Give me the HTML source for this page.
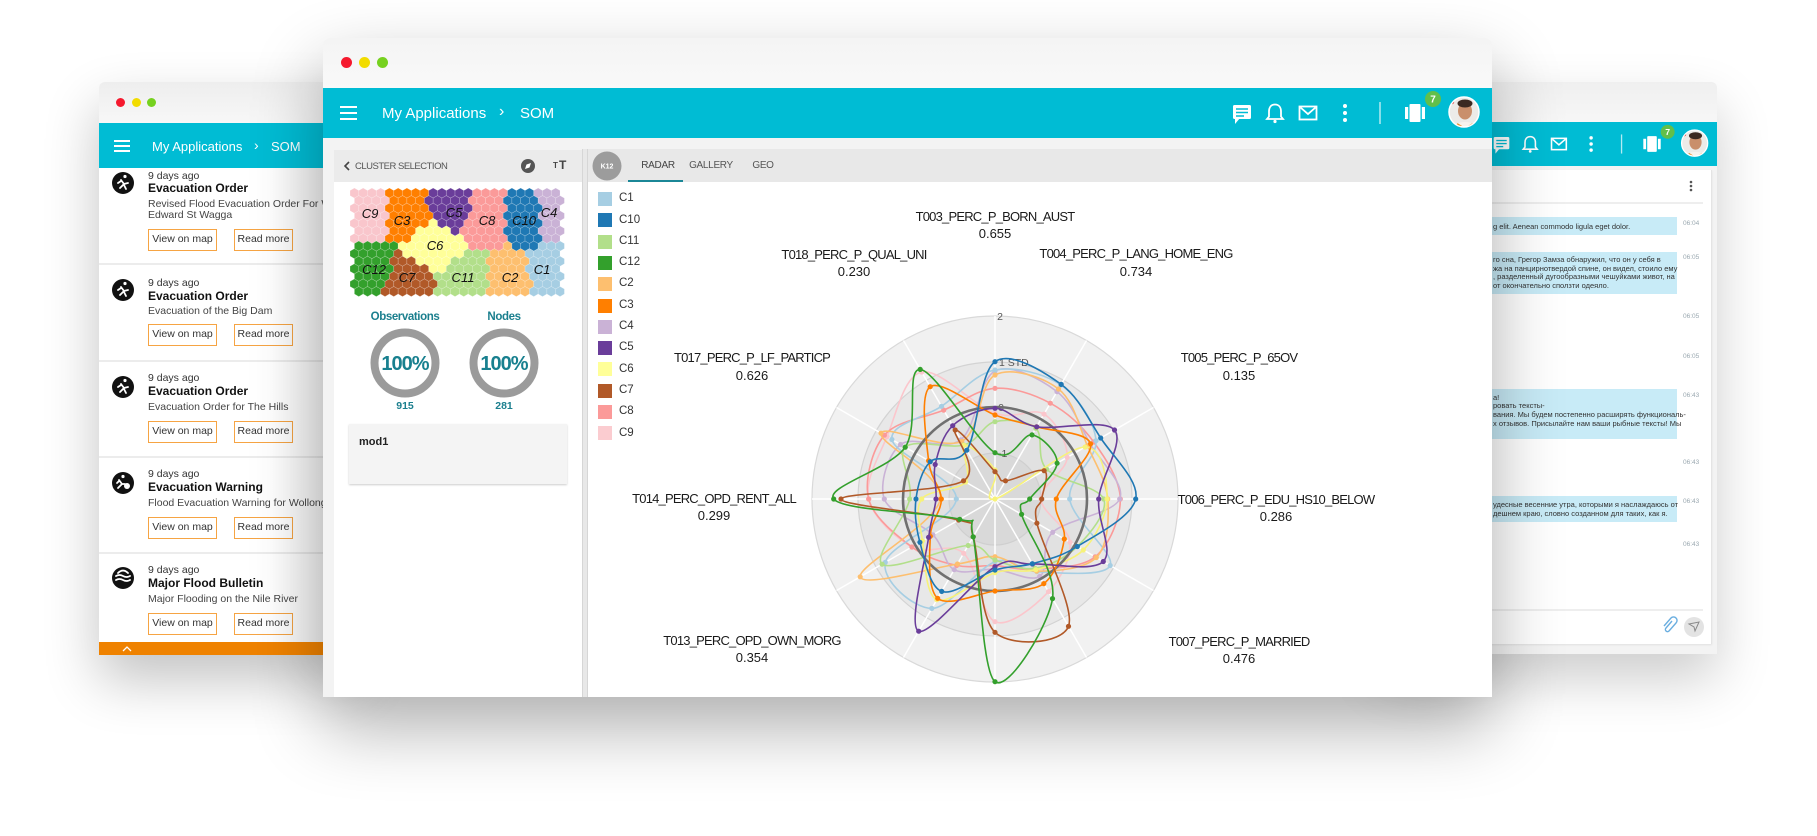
<!DOCTYPE html>
<html><head><meta charset="utf-8">
<style>
*{margin:0;padding:0;box-sizing:border-box}
body{width:1817px;height:836px;overflow:hidden;background:#fff;position:relative;font-family:"Liberation Sans",Arial,sans-serif;color:#222}
.a{position:absolute}
.t{position:absolute;white-space:nowrap;line-height:1}
.c{transform:translateX(-50%)}
.w{position:absolute;left:0;top:0;width:1817px;height:836px}
.dot{position:absolute;border-radius:50%}
.btn{position:absolute;height:22px;border:1.5px solid #f6a443;font-size:10.5px;color:#333;text-align:center;line-height:19px;background:#fff}
.sep{position:absolute;left:99px;width:260px;height:2px;background:#ececec}
.d9{font-size:10.5px;color:#333}
.ti{font-size:12px;font-weight:bold;color:#111}
.ds{font-size:10.5px;color:#444}
.lab{font-size:13px;letter-spacing:-0.8px;color:#1a1a1a}
.val{font-size:13px;color:#1a1a1a}
.lg{position:absolute;left:598px;width:14px;height:14px}
.lt{position:absolute;left:619px;font-size:11.5px;color:#333;line-height:1;white-space:nowrap}
.hl{font-size:13px;font-style:italic;color:#111}
.bub{position:absolute;background:#c8ebf7}
.bt{position:absolute;left:1493px;font-size:7.5px;color:#333;white-space:nowrap}
.tm{position:absolute;left:1683px;font-size:6.5px;color:#9aa8b0;line-height:1;white-space:nowrap}
</style></head><body>

<!-- LEFT BACK WINDOW -->
<div class="w" style="z-index:1">
  <div class="a" style="left:99px;top:82px;width:260px;height:573px;background:#fff;border-radius:6px 6px 0 0;box-shadow:0 25px 55px rgba(0,0,0,.24)"></div>
  <div class="a" style="left:99px;top:82px;width:260px;height:41px;background:linear-gradient(#eeeeee,#f7f7f7);border-radius:6px 6px 0 0"></div>
  <div class="dot" style="left:115.5px;top:97.5px;width:9px;height:9px;background:#f5192e"></div>
  <div class="dot" style="left:131.5px;top:97.5px;width:9px;height:9px;background:#f2dc00"></div>
  <div class="dot" style="left:146.5px;top:97.5px;width:9px;height:9px;background:#76d11f"></div>
  <div class="a" style="left:99px;top:123px;width:260px;height:45px;background:#00bcd4"></div>
  <div class="a" style="left:114px;top:140px;width:16px;height:2px;background:#fff"></div>
  <div class="a" style="left:114px;top:145px;width:16px;height:2px;background:#fff"></div>
  <div class="a" style="left:114px;top:150px;width:16px;height:2px;background:#fff"></div>
  <div class="t" style="left:152px;top:139.5px;font-size:13px;color:#fff">My Applications</div>
  <div class="t" style="left:254px;top:138px;font-size:14px;color:#fff">›</div>
  <div class="t" style="left:271px;top:139.5px;font-size:13px;color:#fff">SOM</div>

  <svg class="a" style="left:0;top:0" width="400" height="700">
    <g fill="#111">
      <circle cx="123" cy="183" r="11"/><circle cx="123" cy="290" r="11"/><circle cx="123" cy="387" r="11"/><circle cx="123" cy="483" r="11"/><circle cx="123" cy="578" r="11"/>
    </g>
    <g stroke="#fff" stroke-width="1.8" fill="none" stroke-linecap="round">
      <path d="M121 180 l3 4 l-4 4 M124 184 l4 -1 M121 181 l-3 2 M124 185 l2 4"/>
      <path d="M121 287 l3 4 l-4 4 M124 291 l4 -1 M121 288 l-3 2 M124 292 l2 4"/>
      <path d="M121 384 l3 4 l-4 4 M124 388 l4 -1 M121 385 l-3 2 M124 389 l2 4"/>
      <path d="M119 480 l3 4 l-4 4 M122 484 l3 0 M119 481 l-2 2"/>
      <path d="M116 576 q3.5 -2 7 0 q3.5 2 7 0 M116 580 q3.5 -2 7 0 q3.5 2 7 0 M118 573 q5 -5 10 0"/>
    </g>
    <g fill="#fff"><circle cx="125" cy="176.5" r="1.6"/><circle cx="125" cy="283.5" r="1.6"/><circle cx="125" cy="380.5" r="1.6"/><circle cx="123" cy="476.5" r="1.6"/><circle cx="127" cy="486" r="3"/></g>
  </svg>

  <!-- item 1 -->
  <div class="t d9" style="left:148px;top:170.7px">9 days ago</div>
  <div class="t ti" style="left:148px;top:182px">Evacuation Order</div>
  <div class="t ds" style="left:148px;top:198.7px">Revised Flood Evacuation Order For W</div>
  <div class="t ds" style="left:148px;top:209.7px">Edward St Wagga</div>
  <div class="btn" style="left:148px;top:229px;width:69px">View on map</div>
  <div class="btn" style="left:234px;top:229px;width:59px">Read more</div>
  <div class="sep" style="top:263px"></div>
  <!-- item 2 -->
  <div class="t d9" style="left:148px;top:277.7px">9 days ago</div>
  <div class="t ti" style="left:148px;top:290px">Evacuation Order</div>
  <div class="t ds" style="left:148px;top:305.7px">Evacuation of the Big Dam</div>
  <div class="btn" style="left:148px;top:324px;width:69px">View on map</div>
  <div class="btn" style="left:234px;top:324px;width:59px">Read more</div>
  <div class="sep" style="top:360px"></div>
  <!-- item 3 -->
  <div class="t d9" style="left:148px;top:372.7px">9 days ago</div>
  <div class="t ti" style="left:148px;top:385px">Evacuation Order</div>
  <div class="t ds" style="left:148px;top:401.7px">Evacuation Order for The Hills</div>
  <div class="btn" style="left:148px;top:421px;width:69px">View on map</div>
  <div class="btn" style="left:234px;top:421px;width:59px">Read more</div>
  <div class="sep" style="top:456px"></div>
  <!-- item 4 -->
  <div class="t d9" style="left:148px;top:468.7px">9 days ago</div>
  <div class="t ti" style="left:148px;top:481px">Evacuation Warning</div>
  <div class="t ds" style="left:148px;top:497.7px">Flood Evacuation Warning for Wollong</div>
  <div class="btn" style="left:148px;top:517px;width:69px">View on map</div>
  <div class="btn" style="left:234px;top:517px;width:59px">Read more</div>
  <div class="sep" style="top:552px"></div>
  <!-- item 5 -->
  <div class="t d9" style="left:148px;top:564.7px">9 days ago</div>
  <div class="t ti" style="left:148px;top:577px">Major Flood Bulletin</div>
  <div class="t ds" style="left:148px;top:593.7px">Major Flooding on the Nile River</div>
  <div class="btn" style="left:148px;top:613px;width:69px">View on map</div>
  <div class="btn" style="left:234px;top:613px;width:59px">Read more</div>
  <div class="a" style="left:99px;top:642px;width:260px;height:13px;background:#ef8200"></div>
  <svg class="a" style="left:120px;top:643px" width="14" height="10"><path d="M3 8 l4 -4 l4 4" stroke="#fff" stroke-width="1.3" fill="none"/></svg>
  <div class="a" style="left:270px;top:168px;width:53px;height:474px;background:linear-gradient(to right,rgba(0,0,0,0),rgba(0,0,0,.06))"></div>
</div>

<!-- RIGHT BACK WINDOW -->
<div class="w" style="z-index:1">
  <div class="a" style="left:1380px;top:82px;width:337px;height:572px;background:#f3f3f3;border-radius:6px 6px 0 0;box-shadow:0 25px 55px rgba(0,0,0,.2)"></div>
  <div class="a" style="left:1380px;top:82px;width:337px;height:40px;background:linear-gradient(#efefef,#f7f7f7);border-radius:6px 6px 0 0"></div>
  <div class="a" style="left:1380px;top:122px;width:337px;height:44px;background:#00bcd4"></div>
  <div class="a" style="left:1380px;top:170px;width:332px;height:474px;background:#fff;border-right:1px solid #e4e4e4;box-shadow:0 1px 2px rgba(0,0,0,.08)"></div>
  <div class="a" style="left:1380px;top:202px;width:323px;height:1.5px;background:#eeeeee"></div>
  <div class="a" style="left:1380px;top:609px;width:323px;height:1.5px;background:#eeeeee"></div>
  <div class="bub" style="left:1420px;top:217px;width:257px;height:18px"></div>
  <div class="bub" style="left:1420px;top:252px;width:257px;height:42px"></div>
  <div class="bub" style="left:1420px;top:389px;width:257px;height:50px"></div>
  <div class="bub" style="left:1420px;top:496px;width:257px;height:26px"></div>
  <div class="bt" style="top:222px;line-height:9px">g elit. Aenean commodo ligula eget dolor.</div>
  <div class="bt" style="top:256px;line-height:8.5px">го сна, Грегор Замза обнаружил, что он у себя в<br>жа на панцирнотвердой спине, он видел, стоило ему<br>, разделенный дугообразными чешуйками живот, на<br>от окончательно сползти одеяло.</div>
  <div class="bt" style="top:393.5px;line-height:8.7px">а!<br>ровать тексты-<br>вания. Мы будем постепенно расширять функциональ-<br>х отзывов. Присылайте нам ваши рыбные тексты! Мы</div>
  <div class="bt" style="top:499.5px;line-height:9px">удесные весенние утра, которыми я наслаждаюсь от<br>дешнем краю, словно созданном для таких, как я.</div>
  <div class="tm" style="top:221px">06:04</div>
  <div class="tm" style="top:255px">06:05</div>
  <div class="tm" style="top:314px">06:05</div>
  <div class="tm" style="top:354px">06:05</div>
  <div class="tm" style="top:393px">06:43</div>
  <div class="tm" style="top:460px">06:43</div>
  <div class="tm" style="top:499px">06:43</div>
  <div class="tm" style="top:542px">06:43</div>
  <svg class="a" style="left:0;top:0" width="1817" height="700">
    <use href="#icons" transform="translate(1501.5,144) scale(0.87) translate(-1242,-113)"/>
    <g fill="#555"><circle cx="1691" cy="182" r="1.3"/><circle cx="1691" cy="186" r="1.3"/><circle cx="1691" cy="190" r="1.3"/></g>
    <path d="M1672 621 l-6 7 a2 2 0 0 0 3 3 l7 -8 a3.5 3.5 0 0 0 -5 -5 l-7 8" stroke="#6aaee0" stroke-width="1.4" fill="none"/>
    <circle cx="1694" cy="627" r="10" fill="#e3e3e3"/>
    <path d="M1689 624 l10 -2 l-4 9 l-1 -4 z" fill="none" stroke="#888" stroke-width="1"/>
  </svg>
</div>

<!-- MAIN WINDOW -->
<div class="w" style="z-index:5">
  <div class="a" style="left:323px;top:38px;width:1169px;height:659px;background:#f3f3f3;border-radius:8px 8px 0 0;box-shadow:0 30px 70px rgba(0,0,0,.32)"></div>
  <div class="a" style="left:323px;top:38px;width:1169px;height:50px;background:linear-gradient(#f4f4f4,#f9f9f9);border-radius:8px 8px 0 0"></div>
  <div class="dot" style="left:340.5px;top:56.5px;width:11px;height:11px;background:#f5192e"></div>
  <div class="dot" style="left:358.5px;top:56.5px;width:11px;height:11px;background:#f2dc00"></div>
  <div class="dot" style="left:376.5px;top:56.5px;width:11px;height:11px;background:#76d11f"></div>
  <div class="a" style="left:323px;top:88px;width:1169px;height:50px;background:#00bcd4"></div>
  <div class="a" style="left:340px;top:105.5px;width:17px;height:2.5px;background:#fff"></div>
  <div class="a" style="left:340px;top:111.5px;width:17px;height:2.5px;background:#fff"></div>
  <div class="a" style="left:340px;top:117.5px;width:17px;height:2.5px;background:#fff"></div>
  <div class="t" style="left:382px;top:105.5px;font-size:15px;color:#fff">My Applications</div>
  <div class="t" style="left:499px;top:103.5px;font-size:16px;color:#fff">›</div>
  <div class="t" style="left:520px;top:105.5px;font-size:15px;color:#fff">SOM</div>

  <!-- left panel -->
  <div class="a" style="left:334px;top:150px;width:248px;height:547px;background:#fff"></div>
  <div class="a" style="left:334px;top:150px;width:248px;height:32px;background:#ebebeb"></div>
  <div class="a" style="left:582px;top:149px;width:6px;height:548px;background:#e8e8e8;border-left:1px solid #d6d6d6;border-right:1px solid #d6d6d6"></div>
  <!-- right card -->
  <div class="a" style="left:588px;top:149px;width:904px;height:548px;background:#fff"></div>
  <div class="a" style="left:588px;top:149px;width:904px;height:33px;background:#e8e8e8"></div>
  <div class="a" style="left:628px;top:180px;width:55px;height:2px;background:#1b8797"></div>

  <svg class="a" style="left:0;top:0" width="1817" height="836">
    <defs><clipPath id="av"><circle cx="1464" cy="112" r="15"/></clipPath></defs>
    <g id="icons">
      <rect x="1233" y="105" width="18" height="14" rx="1.5" fill="#fff"/>
      <path d="M1235 118 v6 l5 -6 z" fill="#fff"/>
      <g stroke="#00bcd4" stroke-width="1.5"><line x1="1236" y1="109" x2="1248" y2="109"/><line x1="1236" y1="112.5" x2="1248" y2="112.5"/><line x1="1236" y1="116" x2="1244" y2="116"/></g>
      <path d="M1275 104.5 c-4 0 -6 3 -6 7 v5 l-2 2.5 h16 l-2 -2.5 v-5 c0 -4 -2 -7 -6 -7z" stroke="#fff" stroke-width="1.8" fill="none"/>
      <circle cx="1275" cy="121.5" r="1.6" fill="#fff"/>
      <rect x="1299.5" y="106.5" width="17" height="13" stroke="#fff" stroke-width="1.8" fill="none"/>
      <polyline points="1300.5,107.5 1308,114 1315.5,107.5" stroke="#fff" stroke-width="1.8" fill="none"/>
      <g fill="#fff"><circle cx="1345" cy="106" r="2"/><circle cx="1345" cy="113" r="2"/><circle cx="1345" cy="120" r="2"/></g>
      <line x1="1380" y1="102" x2="1380" y2="124" stroke="rgba(255,255,255,.7)" stroke-width="1.5"/>
      <rect x="1409.5" y="104" width="11" height="18" rx="1" fill="#fff"/>
      <rect x="1405" y="107" width="3.2" height="12" fill="#fff"/>
      <rect x="1421.8" y="107" width="3.2" height="12" fill="#fff"/>
      <circle cx="1433" cy="99" r="8" fill="#62bf4a"/>
      <text x="1433" y="102.5" font-size="10" font-weight="bold" fill="#fff" text-anchor="middle" font-family="Liberation Sans, sans-serif">7</text>
      <g clip-path="url(#av)">
        <rect x="1449" y="97" width="30" height="30" fill="#ecebe8"/>
        <ellipse cx="1465" cy="130" rx="13" ry="8" fill="#f6f3ee"/>
        <path d="M1457 124 l8 5 l8 -5" stroke="#e8902a" stroke-width="2" fill="none"/>
        <ellipse cx="1465" cy="111" rx="7" ry="8.5" fill="#c98f6b"/>
        <ellipse cx="1465" cy="103.5" rx="7.5" ry="4" fill="#3b2a22"/>
        <circle cx="1452" cy="102" r="2.2" fill="#d83a3a"/>
      </g>
      <circle cx="1464" cy="112" r="15" stroke="#fff" stroke-width="1.5" fill="none"/>
    </g>

    <circle cx="528" cy="166" r="7" fill="#555"/>
    <path d="M531 163 l-4.5 1.5 l-1.5 4.5 l4.5 -1.5z" fill="#fff"/>
    <path d="M349 162 l-4 4 l4 4" stroke="#444" stroke-width="1.6" fill="none"/>

    <g id="hex"></g>

    <circle cx="405" cy="363" r="30.5" stroke="#9b9b9b" stroke-width="8" fill="none"/>
    <circle cx="504" cy="363" r="30.5" stroke="#9b9b9b" stroke-width="8" fill="none"/>

    <circle cx="607" cy="166" r="14.5" fill="#9c9c9c"/>
    <text x="607" y="168.5" font-size="7" font-weight="bold" fill="#fff" text-anchor="middle" font-family="Liberation Sans, sans-serif">K12</text>

    <g id="bands"></g>
    <g font-family="Liberation Sans, sans-serif" font-size="10.5" fill="#555">
      <text x="1000" y="320" text-anchor="middle">2</text>
      <text x="999" y="366">1 STD</text>
      <text x="1001" y="411" text-anchor="middle">0</text>
      <text x="998" y="457">-1</text>
    </g>
    <g id="series"></g>
  </svg>

  <div class="t" style="left:355px;top:161.5px;font-size:9.5px;color:#555;letter-spacing:-0.5px">CLUSTER SELECTION</div>
  <div class="t" style="left:553px;top:162px;font-size:8px;font-weight:bold;color:#444">T</div>
  <div class="t" style="left:559px;top:159px;font-size:12px;font-weight:bold;color:#444">T</div>

  <div class="t hl c" style="left:370px;top:206.5px">C9</div>
  <div class="t hl c" style="left:402px;top:213.5px">C3</div>
  <div class="t hl c" style="left:454px;top:205.5px">C5</div>
  <div class="t hl c" style="left:487px;top:213.5px">C8</div>
  <div class="t hl c" style="left:524px;top:213.5px">C10</div>
  <div class="t hl c" style="left:549px;top:205.5px">C4</div>
  <div class="t hl c" style="left:435px;top:238.5px">C6</div>
  <div class="t hl c" style="left:374px;top:262.5px">C12</div>
  <div class="t hl c" style="left:407px;top:270.5px">C7</div>
  <div class="t hl c" style="left:463px;top:270.5px">C11</div>
  <div class="t hl c" style="left:510px;top:270.5px">C2</div>
  <div class="t hl c" style="left:542px;top:262.5px">C1</div>

  <div class="t c" style="left:405px;top:312px;font-size:11.5px;font-weight:bold;color:#1b7f8e;letter-spacing:-0.4px">Observations</div>
  <div class="t c" style="left:504px;top:312px;font-size:11.5px;font-weight:bold;color:#1b7f8e;letter-spacing:-0.4px">Nodes</div>
  <div class="t c" style="left:405px;top:354px;font-size:20px;font-weight:bold;color:#18808f;letter-spacing:-1px">100%</div>
  <div class="t c" style="left:504px;top:354px;font-size:20px;font-weight:bold;color:#18808f;letter-spacing:-1px">100%</div>
  <div class="t c" style="left:405px;top:401px;font-size:10.5px;font-weight:bold;color:#1b7f8e">915</div>
  <div class="t c" style="left:504px;top:401px;font-size:10.5px;font-weight:bold;color:#1b7f8e">281</div>

  <div class="a" style="left:349px;top:424px;width:218px;height:60px;background:#f4f4f4;box-shadow:0 1px 2px rgba(0,0,0,.2)"></div>
  <div class="t" style="left:359px;top:436.5px;font-size:11px;font-weight:bold;color:#222">mod1</div>

  <div class="t c" style="left:658px;top:161px;font-size:10px;color:#444;letter-spacing:-0.3px">RADAR</div>
  <div class="t c" style="left:711px;top:161px;font-size:10px;color:#555;letter-spacing:-0.3px">GALLERY</div>
  <div class="t c" style="left:763px;top:161px;font-size:10px;color:#555;letter-spacing:-0.3px">GEO</div>

  <div class="lg" style="top:192px;background:#a6cee3"></div><div class="lt" style="top:193.2px">C1</div>
  <div class="lg" style="top:213.3px;background:#1f78b4"></div><div class="lt" style="top:214.5px">C10</div>
  <div class="lg" style="top:234.6px;background:#b2df8a"></div><div class="lt" style="top:235.8px">C11</div>
  <div class="lg" style="top:255.9px;background:#33a02c"></div><div class="lt" style="top:257.1px">C12</div>
  <div class="lg" style="top:277.2px;background:#fdbf6f"></div><div class="lt" style="top:278.4px">C2</div>
  <div class="lg" style="top:298.5px;background:#ff7f00"></div><div class="lt" style="top:299.7px">C3</div>
  <div class="lg" style="top:319.8px;background:#cab2d6"></div><div class="lt" style="top:321px">C4</div>
  <div class="lg" style="top:341.1px;background:#6a3d9a"></div><div class="lt" style="top:342.3px">C5</div>
  <div class="lg" style="top:362.4px;background:#ffff99"></div><div class="lt" style="top:363.6px">C6</div>
  <div class="lg" style="top:383.7px;background:#b15928"></div><div class="lt" style="top:384.9px">C7</div>
  <div class="lg" style="top:405px;background:#fb9a99"></div><div class="lt" style="top:406.2px">C8</div>
  <div class="lg" style="top:426.3px;background:#fbccd0"></div><div class="lt" style="top:427.5px">C9</div>

  <div class="t c lab" style="left:995px;top:209.5px">T003_PERC_P_BORN_AUST</div>
  <div class="t c val" style="left:995px;top:226.5px">0.655</div>
  <div class="t c lab" style="left:1136px;top:246.5px">T004_PERC_P_LANG_HOME_ENG</div>
  <div class="t c val" style="left:1136px;top:264.5px">0.734</div>
  <div class="t c lab" style="left:1239px;top:350.5px">T005_PERC_P_65OV</div>
  <div class="t c val" style="left:1239px;top:368.5px">0.135</div>
  <div class="t c lab" style="left:1276px;top:492.5px">T006_PERC_P_EDU_HS10_BELOW</div>
  <div class="t c val" style="left:1276px;top:509.5px">0.286</div>
  <div class="t c lab" style="left:1239px;top:634.5px">T007_PERC_P_MARRIED</div>
  <div class="t c val" style="left:1239px;top:651.5px">0.476</div>
  <div class="t c lab" style="left:752px;top:633.5px">T013_PERC_OPD_OWN_MORG</div>
  <div class="t c val" style="left:752px;top:650.5px">0.354</div>
  <div class="t c lab" style="left:714px;top:491.5px">T014_PERC_OPD_RENT_ALL</div>
  <div class="t c val" style="left:714px;top:508.5px">0.299</div>
  <div class="t c lab" style="left:752px;top:350.5px">T017_PERC_P_LF_PARTICP</div>
  <div class="t c val" style="left:752px;top:368.5px">0.626</div>
  <div class="t c lab" style="left:854px;top:247.5px">T018_PERC_P_QUAL_UNI</div>
  <div class="t c val" style="left:854px;top:264.5px">0.230</div>
</div>

<script>
(function(){
const NS='http://www.w3.org/2000/svg';
function el(tag,attrs,parent){const e=document.createElementNS(NS,tag);for(const k in attrs)e.setAttribute(k,attrs[k]);parent.appendChild(e);return e;}
const hm=document.getElementById('hex');
const seeds=[[368,210,'#f9c6cc'],[405,212,'#ff7f00'],[452,205,'#6a3d9a'],[487,215,'#fb9a99'],[524,213,'#1f78b4'],[553,210,'#cab2d6'],[432,248,'#ffff99'],[368,270,'#33a02c'],[408,282,'#b15928'],[463,282,'#b2df8a'],[510,282,'#fdbf6f'],[548,278,'#a6cee3']];
const s=5.05,w=8.75;
for(let r=0;r<14;r++)for(let c=0;c<24;c++){
  const x=354.4+c*w+(r%2?w/2:0), y=193.05+r*1.5*s;
  let best=null,bd=1e9;
  for(const sd of seeds){const d=(x-sd[0])**2+(y-sd[1])**2;if(d<bd){bd=d;best=sd;}}
  const h=w/2;
  const pts=[[x,y-s],[x+h,y-s/2],[x+h,y+s/2],[x,y+s],[x-h,y+s/2],[x-h,y-s/2]].map(p=>p[0].toFixed(2)+','+p[1].toFixed(2)).join(' ');
  el('polygon',{points:pts,fill:best[2],stroke:'rgba(255,255,255,0.3)','stroke-width':0.6},hm);
}
const cx=995,cy=499;
const gb=document.getElementById('bands');
[[183,'#f1f1f1','#d9d9d9'],[137,'#e8e8e8','#d3d3d3'],[92,'#e1e1e1','#d3d3d3'],[46,'#d9d9d9','#cfcfcf']].forEach(([r,f,st])=>el('circle',{cx:cx,cy:cy,r:r,fill:f,stroke:st,'stroke-width':1.2},gb));
for(let i=0;i<12;i++){const a=i*Math.PI/6;el('line',{x1:cx,y1:cy,x2:(cx+183*Math.sin(a)).toFixed(1),y2:(cy-183*Math.cos(a)).toFixed(1),stroke:'#fff','stroke-width':1.5},gb);}
const gs=document.getElementById('series');
const S=[
 ['#fbc6cc',[257,294,250,138,260,321,368,188,288,379,374,440]],
 ['#fb9a99',[332,332,342,376,347,243,200,230,288,379,383,308]],
 ['#cab2d6',[384,372,330,374,200,268,211,245,215,332,327,205]],
 ['#a6cee3',[387,395,350,224,399,252,188,379,380,116,357,321]],
 ['#fdbf6f',[372,381,320,338,351,250,173,225,467,164,395,200]],
 ['#b2df8a',[232,245,179,326,285,240,183,161,391,256,311,187]],
 ['#f7f27a',[87,0,312,336,306,245,221,349,251,220,102,186]],
 ['GRAY'],
 ['#ff7f00',[252,250,331,184,240,293,276,344,224,161,230,389]],
 ['#b15928',[82,63,170,140,145,441,400,131,126,462,109,239]],
 ['#6a3d9a',[272,250,414,311,375,225,203,458,230,177,207,254]],
 ['#1f78b4',[412,397,366,422,285,224,213,320,260,237,224,169]],
 ['#33a02c',[139,222,215,104,92,345,548,131,122,484,311,449]]
];
S.forEach(item=>{
  if(item[0]==='GRAY'){el('circle',{cx:cx,cy:cy,r:92,fill:'none',stroke:'#707070','stroke-width':2.6},gs);return;}
  const c=item[0],rs=item[1];
  const pts=rs.map((r,i)=>{const a=i*Math.PI/6;r=r/3;return [cx+r*Math.sin(a),cy-r*Math.cos(a)];});
  const f=p=>p[0].toFixed(1)+','+p[1].toFixed(1);
  let d='M'+f(pts[0]);
  for(let i=0;i<12;i++){
    const p0=pts[(i+11)%12],p1=pts[i],p2=pts[(i+1)%12],p3=pts[(i+2)%12];
    const c1=[p1[0]+(p2[0]-p0[0])/6,p1[1]+(p2[1]-p0[1])/6];
    const c2=[p2[0]-(p3[0]-p1[0])/6,p2[1]-(p3[1]-p1[1])/6];
    d+='C'+f(c1)+' '+f(c2)+' '+f(p2);
  }
  el('path',{d:d+'Z',fill:'none',stroke:c,'stroke-width':1.6},gs);
  pts.forEach(p=>el('circle',{cx:p[0].toFixed(1),cy:p[1].toFixed(1),r:2.6,fill:c},gs));
});
})();
</script>
</body></html>
